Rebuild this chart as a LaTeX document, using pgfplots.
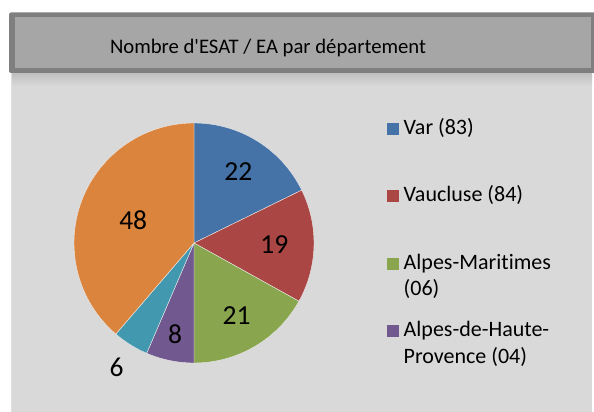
\documentclass[border=0pt]{standalone}
\usepackage{pgfplots}
\pgfplotsset{compat=1.18}
\usepackage{fontspec}
\setmainfont{Carlito}[Ligatures={TeXOff,CommonOff}]
\definecolor{cVar}{HTML}{4572A7}
\definecolor{cVau}{HTML}{AA4643}
\definecolor{cAM}{HTML}{89A54E}
\definecolor{cAHP}{HTML}{71588F}
\definecolor{cHA}{HTML}{4198AF}
\definecolor{cBR}{HTML}{DB843D}
\definecolor{bgarea}{HTML}{D9D9D9}
\definecolor{titlefill}{HTML}{A6A6A6}
\definecolor{titleborder}{HTML}{7F7F7F}
\def\tot{124}
\begin{document}
\begin{tikzpicture}
\begin{axis}[
  at={(0,0)}, anchor=south west,
  scale only axis, width=594bp, height=412bp,
  xmin=0, xmax=594, ymin=0, ymax=412,
  hide axis, clip=false]
% chart area
\fill[bgarea] (axis cs:11,0) rectangle (axis cs:592,339);
\draw[color=white!75!gray, line width=1bp] (axis cs:11.5,0) -- (axis cs:11.5,339);
\draw[color=white!70!gray, line width=1bp] (axis cs:591.5,0) -- (axis cs:591.5,339);
% title shadow
\shade[top color=white!50!gray, bottom color=bgarea] (axis cs:12,339) rectangle (axis cs:592,326);
% title box
\fill[titleborder, rounded corners=2bp] (axis cs:9,339) rectangle (axis cs:600,399.5);
\fill[titlefill] (axis cs:15,344) rectangle (axis cs:591,394.7);
\node[anchor=base, inner sep=0pt, font=\fontsize{20.7bp}{24bp}\selectfont] at (axis cs:268,358.7) {Nombre d'ESAT / EA par département};
% pie: value / cumulative start / colour / label radius (fraction of R)
\foreach \v/\s/\c/\lr in {22/0/cVar/0.70, 19/22/cVau/0.67, 21/41/cAM/0.70, 8/62/cAHP/0.78, 6/70/cHA/1.22, 48/76/cBR/0.54}{
  \pgfmathsetmacro\a{90-\s/\tot*360}
  \pgfmathsetmacro\b{90-(\s+\v)/\tot*360}
  \pgfmathsetmacro\m{(\a+\b)/2}
  \pgfmathsetmacro\r{\lr*120}
  \edef\temp{\noexpand\fill[\c, draw=white!85!gray, line width=0.4bp] (axis cs:194,169) -- ++(\a:120bp) arc[start angle=\a, end angle=\b, radius=120bp] -- cycle;
  \noexpand\path (axis cs:194,169) ++(\m:\r bp) node[inner sep=0pt, font=\noexpand\fontsize{27.5bp}{30bp}\noexpand\selectfont] {\v};}
  \temp
}
% legend
\fill[cVar] (axis cs:387.3,277) rectangle (axis cs:399.3,289);
\node[anchor=base west, inner sep=0pt, font=\fontsize{22bp}{25bp}\selectfont] at (axis cs:403.5,277) {Var (83)};
\fill[cVau] (axis cs:387.3,210) rectangle (axis cs:399.3,222);
\node[anchor=base west, inner sep=0pt, font=\fontsize{22bp}{25bp}\selectfont] at (axis cs:403.5,210) {Vaucluse (84)};
\fill[cAM] (axis cs:387.3,142) rectangle (axis cs:399.3,154);
\node[anchor=base west, inner sep=0pt, font=\fontsize{22bp}{25bp}\selectfont] at (axis cs:403.5,142) {Alpes-Maritimes};
\node[anchor=base west, inner sep=0pt, font=\fontsize{22bp}{25bp}\selectfont] at (axis cs:403.5,116) {(06)};
\fill[cAHP] (axis cs:387.3,75.3) rectangle (axis cs:399.3,87.3);
\node[anchor=base west, inner sep=0pt, font=\fontsize{22bp}{25bp}\selectfont] at (axis cs:403.5,75.3) {Alpes-de-Haute-};
\node[anchor=base west, inner sep=0pt, font=\fontsize{22bp}{25bp}\selectfont] at (axis cs:403.5,48.7) {Provence (04)};
\end{axis}
\pgfresetboundingbox
\path (0,0) rectangle (594bp,412bp);
\end{tikzpicture}
\end{document}
